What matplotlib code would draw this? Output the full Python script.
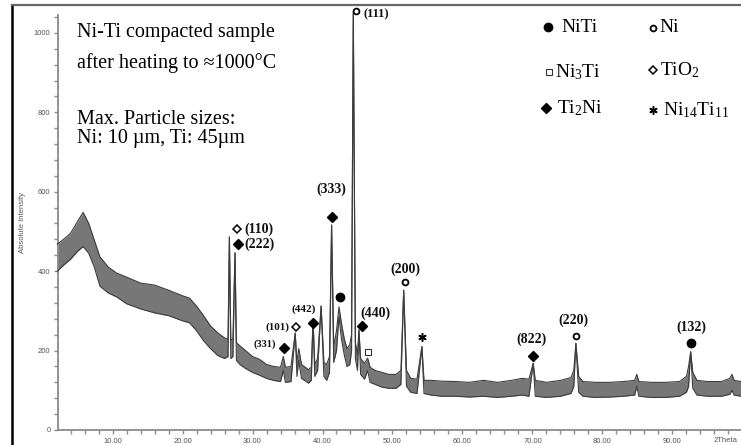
import matplotlib
matplotlib.use("Agg")
import matplotlib.pyplot as plt
from matplotlib.lines import Line2D

plt.rcParams['mathtext.fontset'] = 'custom'
plt.rcParams['mathtext.rm'] = 'Liberation Serif'
plt.rcParams['mathtext.it'] = 'Liberation Serif:italic'
plt.rcParams['mathtext.bf'] = 'Liberation Serif:bold'

# ---------------- data ----------------
two_theta = [2.1, 3.0, 4.0, 5.0, 5.8, 6.6, 7.4, 8.2, 9.4, 10.6, 12.0, 14.0, 16.0, 18.0,
             20.0, 21.0, 22.0, 23.0, 24.0, 25.0, 26.0, 26.5, 26.7, 26.9, 27.2, 27.5,
             27.7, 28.2, 29.0, 30.0, 31.0, 32.0, 33.0, 34.0, 34.4, 34.7, 35.5, 36.1,
             36.35, 36.6, 37.0, 38.0, 38.4, 38.65, 38.9, 39.3, 39.8, 40.2, 40.6, 41.0,
             41.3, 41.6, 42.0, 42.35, 42.7, 43.1, 43.5, 43.9, 44.15, 44.4, 44.7, 45.0,
             45.2, 45.45, 46.0, 46.45, 46.8, 47.5, 48.5, 49.5, 50.5, 51.2, 51.6, 52.0,
             52.6, 53.5, 54.2, 54.5, 55.5, 57.0, 59.0, 61.0, 63.0, 65.0, 67.0, 68.5,
             69.5, 70.1, 70.4, 72.0, 74.0, 75.5, 75.9, 76.2, 76.6, 77.2, 79.0, 81.0,
             83.0, 84.6, 84.9, 85.2, 87.0, 89.0, 91.0, 92.0, 92.3, 92.6, 92.9, 93.5,
             95.0, 97.0, 98.2, 98.5, 98.8, 99.8]
intensity_low = [400, 415, 430, 450, 462, 445, 410, 362, 345, 335, 318, 305, 295, 288,
                 275, 270, 250, 225, 205, 188, 180, 185, 486, 180, 185, 446,
                 175, 165, 155, 145, 138, 130, 125, 122, 150, 120, 122, 244,
                 135, 175, 130, 118, 125, 277, 135, 150, 312, 135, 125, 145,
                 516, 170, 200, 285, 230, 190, 160, 165, 200, 1050, 180, 150,
                 252, 140, 128, 150, 120, 115, 108, 105, 105, 115, 352, 110,
                 95, 92, 210, 92, 88, 85, 85, 83, 85, 82, 85, 88,
                 85, 168, 85, 82, 85, 92, 110, 218, 95, 85, 82, 83,
                 85, 88, 110, 85, 82, 82, 85, 95, 110, 197, 105, 88,
                 85, 85, 90, 100, 88, 85]
intensity_high = [468, 480, 495, 525, 548, 520, 478, 436, 410, 395, 385, 370, 365, 352,
                  338, 332, 312, 288, 262, 245, 232, 228, 486, 225, 230, 446,
                  220, 212, 200, 185, 178, 165, 160, 158, 185, 158, 160, 244,
                  170, 205, 165, 152, 158, 277, 165, 180, 312, 170, 165, 185,
                  516, 210, 250, 310, 270, 230, 205, 215, 240, 1050, 220, 190,
                  252, 180, 168, 181, 158, 150, 145, 140, 140, 150, 352, 150,
                  130, 128, 210, 125, 125, 123, 122, 120, 125, 120, 125, 130,
                  128, 168, 125, 120, 125, 132, 150, 218, 135, 122, 120, 120,
                  122, 125, 140, 122, 120, 120, 122, 135, 160, 197, 145, 125,
                  122, 122, 130, 140, 125, 122]

x_major = [10, 20, 30, 40, 50, 60, 70, 80, 90]
x_major_labels = ["10.00", "20.00", "30.00", "40.00", "50.00", "60.00", "70.00", "80.00", "90.00"]
y_major = [0, 200, 400, 600, 800, 1000]
y_major_labels = ["0", "200", "400", "600", "800", "1000"]

# ---------------- figure ----------------
W, H = 741, 445
fig = plt.figure(figsize=(W / 100, H / 100), dpi=100)
fig.patch.set_facecolor("white")

def fx(px):
    return px / W

def fy(py):
    return 1 - py / H

ax = fig.add_axes([fx(57.5), fy(430), 1 - fx(57.5), (430 - 15) / H])
ax.set_xlim(2.14, 99.79)
ax.set_ylim(0, 1045)

ax.fill_between(two_theta, intensity_low, intensity_high, color="#777777", lw=0, clip_on=False, zorder=2)
ax.plot(two_theta, intensity_low, color="#3c3c3c", lw=0.8, clip_on=False, zorder=3)
ax.plot(two_theta, intensity_high, color="#3c3c3c", lw=0.8, clip_on=False, zorder=3)

for s in ["top", "right"]:
    ax.spines[s].set_visible(False)
for s in ["left", "bottom"]:
    ax.spines[s].set_color("#8a8a8a")
    ax.spines[s].set_linewidth(1.3)

ax.set_xticks(x_major)
ax.set_xticklabels(x_major_labels)
ax.set_xticks(list(range(4, 100, 2)), minor=True)
ax.set_yticks(y_major)
ax.set_yticklabels(y_major_labels)
ax.set_yticks(list(range(40, 1041, 40)), minor=True)
ax.tick_params(axis="both", which="both", colors="#8a8a8a", labelcolor="#555555",
               labelsize=5.5, width=1.0)
ax.tick_params(axis="x", which="major", length=3, pad=3)
ax.tick_params(axis="x", which="minor", length=3)
ax.tick_params(axis="y", which="major", length=3, pad=2)
ax.tick_params(axis="y", which="minor", length=3)
for lab in ax.get_xticklabels() + ax.get_yticklabels():
    lab.set_fontfamily("Liberation Sans")

fig.text(fx(22), fy(222), "Absolute Intensity", rotation=90, ha="center", va="center",
         fontsize=5.5, color="#555555", family="Liberation Sans")
fig.text(fx(714), fy(440), "2Theta", ha="left", va="center",
         fontsize=5.5, color="#555555", family="Liberation Sans")

# frame lines of the original figure
fig.add_artist(Line2D([fx(12), fx(12)], [fy(5), 0], color="black", lw=1.8))
fig.add_artist(Line2D([fx(12), 1], [fy(5), fy(5)], color="#666666", lw=1.6))

serif = "Liberation Serif"

# description text
desc = [("Ni-Ti compacted sample", 1000), ("after heating to \u22481000\u00b0C", 924),
        ("Max. Particle sizes:", 781), ("Ni: 10 \u00b5m, Ti: 45\u00b5m", 733)]
for txt, yy in desc:
    ax.text(4.93, yy, txt, ha="left", va="center", fontsize=14.5, family=serif, color="black")

# marker styles
def mk(x, y, kind, ms=None):
    if kind == "NiTi":
        ax.plot(x, y, "o", ms=ms or 6, mfc="black", mec="black", clip_on=False, zorder=5)
    elif kind == "Ni":
        ax.plot(x, y, "o", ms=ms or 4.2, mfc="white", mec="black", mew=1.3, clip_on=False, zorder=5)
    elif kind == "Ni3Ti":
        ax.plot(x, y, "s", ms=ms or 5, mfc="white", mec="#333333", mew=0.8, clip_on=False, zorder=5)
    elif kind == "TiO2":
        ax.plot(x, y, "D", ms=ms or 3.8, mfc="white", mec="black", mew=1.1, clip_on=False, zorder=5)
    elif kind == "Ti2Ni":
        ax.plot(x, y, "D", ms=ms or 5.2, mfc="black", mec="black", clip_on=False, zorder=5)
    elif kind == "Ni14Ti11":
        ax.plot(x, y, marker=(6, 2, 0), ms=ms or 6, mec="black", mew=1.1, ls="none",
                clip_on=False, zorder=5)

# peak markers
peak_marks = [(27.74, 506, "TiO2"), (27.89, 468, "Ti2Ni"), (41.3, 536, "Ti2Ni"),
              (42.5, 335, "NiTi"), (44.8, 1055, "Ni"), (38.7, 270, "Ti2Ni"),
              (36.2, 259, "TiO2"), (34.5, 206, "Ti2Ni"), (45.6, 263, "Ti2Ni"),
              (46.46, 197, "Ni3Ti"), (51.8, 373, "Ni"), (54.2, 234, "Ni14Ti11"),
              (70.1, 186, "Ti2Ni"), (76.2, 237, "Ni"), (92.6, 219, "NiTi")]
for x, y, k in peak_marks:
    mk(x, y, k)

# peak labels: (x, y, text, ha, size)
peak_labels = [(28.8, 506, "(110)", "left", 10), (28.8, 468, "(222)", "left", 10),
               (41.2, 607, "(333)", "center", 10), (45.8, 1048, "(111)", "left", 9),
               (37.36, 305, "(442)", "center", 8), (33.6, 259, "(101)", "center", 8),
               (31.8, 217, "(331)", "center", 7.5), (47.5, 295, "(440)", "center", 10),
               (51.8, 405, "(200)", "center", 10), (69.9, 229, "(822)", "center", 10),
               (75.9, 277, "(220)", "center", 10), (92.7, 259, "(132)", "center", 10)]
for x, y, t, ha, sz in peak_labels:
    ax.text(x, y, t, ha=ha, va="center", fontsize=sz, family=serif, fontweight="bold",
            color="#111111", clip_on=False, zorder=6)

# legend (drawn as text + markers)
legend_items = [(72.2, 1014, "NiTi", "NiTi", 74.2),
                (87.2, 1013, "Ni", "Ni", 88.2),
                (72.4, 902, "Ni3Ti", r"Ni$_{3}$Ti", 73.2),
                (87.2, 907, "TiO2", r"TiO$_{2}$", 88.2),
                (72.0, 811, "Ti2Ni", r"Ti$_{2}$Ni", 73.5),
                (87.2, 806, "Ni14Ti11", r"Ni$_{14}$Ti$_{11}$", 88.6)]
for mx, my, k, lab, tx in legend_items:
    mk(mx, my, k)
    ax.text(tx, my, lab, ha="left", va="center", fontsize=14, family=serif, color="black",
            clip_on=False)

fig.savefig("out.png", dpi=100, facecolor="white")
